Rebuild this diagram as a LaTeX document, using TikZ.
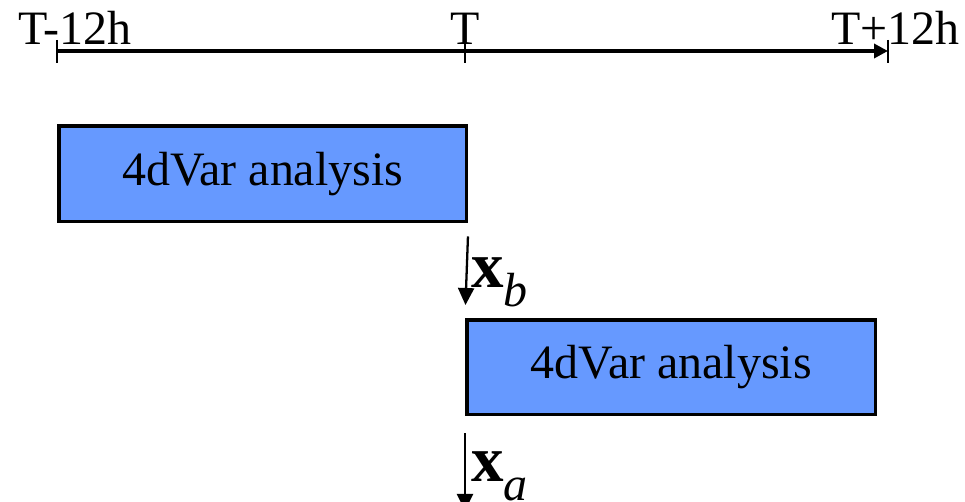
\documentclass[tikz,border=0pt]{standalone}
\usepackage{fontspec}
\setmainfont{Liberation Serif}
\usetikzlibrary{arrows.meta}
\definecolor{anablue}{HTML}{6699FF}
\tikzset{
	anabox/.style={draw=black, line width=2pt, fill=anablue, inner sep=0pt,
		anchor=north west, font=\fontsize{27.3}{32}\selectfont},
	timelbl/.style={inner sep=0pt, anchor=base, font=\fontsize{27.3}{32}\selectfont},
	varlbl/.style={inner sep=0pt, anchor=base west},
	flow/.style={-{Triangle[length=0.34cm,width=0.32cm]}, line width=1.3pt}
}
\newcommand{\statevar}[1]{{\fontsize{37}{40}\selectfont\bfseries x}\raisebox{-10.8pt}{\fontsize{27.3}{32}\selectfont\itshape #1}}
\begin{document}
\begin{tikzpicture}[x=0.02cm, y=-0.02cm]
	\useasboundingbox (0,0) rectangle (965,502);
	% time axis
	\coordinate (tstart) at (57,51);
	\coordinate (tmid) at (465,51);
	\coordinate (tend) at (888,51);
	\draw[-{Triangle[length=0.28cm,width=0.28cm]}, line width=2pt] (tstart) -- (tend);
	\foreach \t in {tstart, tmid, tend}
		\draw[line width=1.6pt] ([yshift=0.22cm]\t) -- ([yshift=-0.24cm]\t);
	\node[timelbl, anchor=base west] (lblstart) at (18,45) {T-12h};
	\node[timelbl] (lblmid) at (465,45) {T};
	\node[timelbl, anchor=base east] (lblend) at (960,45) {T+12h};

	% analysis windows
	\node[anabox, minimum width=8.16cm, minimum height=1.92cm] (ana1) at (57,124) {4dVar analysis};
	\node[anabox, minimum width=8.18cm, minimum height=1.90cm] (ana2) at (465,318) {4dVar analysis};
	\coordinate (xaend) at (465,511);

	\draw[flow, shorten <=0.26cm, shorten >=0.26cm] (ana1.south east) -- (ana2.north west);
	\draw[flow, shorten <=0.34cm] (ana2.south west) -- (xaend);
	\node[varlbl] (xb) at (471,288) {\statevar{b}};
	\node[varlbl] (xa) at (471,482) {\statevar{a}};
\end{tikzpicture}
\end{document}
